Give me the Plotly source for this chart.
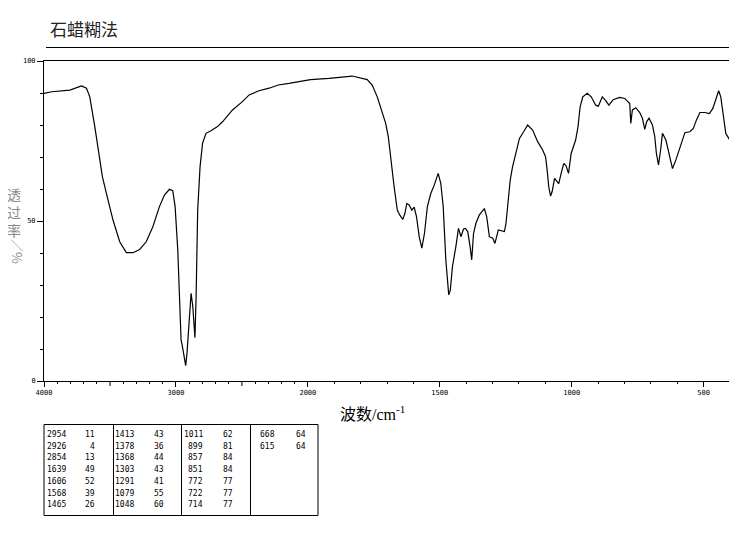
import plotly.graph_objects as go

# ---------------- data ----------------
wavenumber = [4000, 3942, 3804, 3716, 3678, 3653, 3615, 3590, 3557, 3515, 3477, 3426, 3376, 3326, 3275,
              3225, 3175, 3125, 3087, 3049, 3024, 3006, 2986, 2974, 2961, 2954, 2940, 2926, 2916, 2900,
              2885, 2872, 2856, 2847, 2835, 2817, 2798, 2772, 2734, 2685, 2647, 2571, 2496, 2445, 2370,
              2294, 2224, 2143, 2068, 1990, 1920, 1832, 1775, 1756, 1737, 1718, 1705, 1695, 1686, 1673,
              1661, 1652, 1640, 1632, 1625, 1616, 1606, 1597, 1588, 1578, 1568, 1558, 1547, 1534, 1521,
              1506, 1496, 1487, 1477, 1466, 1460, 1452, 1439, 1429, 1420, 1410, 1403, 1394, 1385, 1379,
              1372, 1363, 1350, 1331, 1322, 1312, 1299, 1291, 1278, 1268, 1255, 1249, 1243, 1233, 1224,
              1211, 1198, 1182, 1167, 1148, 1129, 1110, 1099, 1093, 1087, 1080, 1074, 1065, 1056, 1049,
              1040, 1030, 1021, 1012, 1002, 985, 976, 968, 958, 941, 926, 909, 899, 884, 871,
              859, 843, 818, 799, 780, 776, 770, 757, 742, 732, 723, 716, 707, 694, 685,
              679, 671, 663, 656, 643, 630, 618, 605, 590, 571, 552, 539, 527, 514, 495,
              478, 465, 452, 443, 435, 425, 416, 401]
transmittance = [89.9, 90.4, 90.9, 92.2, 91.5, 88.8, 79.5, 72.2, 63.8, 56.6, 50.3, 43.5, 40.1, 40.1, 41.1,
                 43.5, 48.2, 54.5, 58.1, 59.9, 59.5, 54.5, 40.9, 27.5, 12.8, 11.5, 8.6, 4.8, 8.7, 18.0,
                 27.4, 23.2, 13.5, 26.3, 53.4, 67.0, 74.3, 77.4, 78.2, 79.5, 81.0, 84.7, 87.3, 89.4, 90.7,
                 91.5, 92.5, 93.0, 93.5, 94.2, 94.6, 95.3, 94.2, 92.5, 88.8, 83.6, 80.5, 76.3, 69.1, 60.7,
                 53.4, 51.9, 50.5, 52.4, 55.5, 55.0, 53.4, 54.3, 51.3, 45.1, 41.5, 46.1, 54.5, 58.6, 61.2,
                 64.9, 61.7, 54.5, 37.8, 26.9, 28.4, 35.7, 42.0, 47.7, 45.1, 47.5, 47.7, 46.7, 42.0, 37.8,
                 46.1, 49.3, 51.9, 53.9, 51.3, 45.1, 44.6, 43.0, 47.2, 47.0, 46.7, 49.3, 54.5, 62.8, 67.0,
                 71.1, 75.8, 77.9, 80.0, 78.4, 74.8, 72.2, 70.1, 65.9, 60.7, 57.8, 59.2, 63.3, 62.3, 61.7,
                 64.9, 68.0, 67.2, 64.9, 71.1, 75.3, 79.5, 85.7, 88.8, 89.9, 88.8, 86.2, 85.9, 88.8, 87.6,
                 86.2, 87.9, 88.6, 88.3, 86.7, 80.5, 84.7, 85.4, 83.9, 82.1, 78.6, 81.0, 82.1, 80.0, 76.3,
                 71.1, 67.5, 72.2, 77.4, 75.3, 70.1, 66.4, 69.1, 73.2, 77.6, 77.9, 78.9, 81.6, 83.9, 83.9,
                 83.6, 85.2, 88.3, 90.7, 88.8, 82.6, 77.4, 75.3]

peak_wavenumbers = [2954, 2926, 2854, 1639, 1606, 1568, 1465,
                    1413, 1378, 1368, 1303, 1291, 1079, 1048,
                    1011, 899, 857, 851, 772, 722, 714,
                    668, 615]
peak_transmittance = [11, 4, 13, 49, 52, 39, 26,
                      43, 36, 44, 43, 41, 55, 60,
                      62, 81, 84, 84, 77, 77, 77,
                      64, 64]

labeled_tick_wn = [4000, 3000, 2000, 1500, 1000, 500]
labeled_tick_text = ["4000", "3000", "2000", "1500", "1000", "500"]
unlabeled_major_wn = [3500, 2500]
y_tick_vals = [0, 50, 100]
y_tick_labels = ["0", "50", "100"]

title_text = "石蜡糊法"
x_title = "波数/cm<sup>-1</sup>"
y_title_chars = ["透", "过", "率"]
y_title_unit = "／%"

# ---------------- scale: split wavenumber axis (4000-2000 compressed x0.5) ----------------
def to_u(w):
    return (4000 - w) / 2.0 if w >= 2000 else 1000 + (2000 - w)

# reference geometry (page pixels); the page body adds an 8px offset
OFF = 8
W, H = 737, 539
L, R, T, B = 44, 730, 61, 381

def px(x):
    return (x - L) / (R - L)

def py(y):
    return (B - y) / (B - T)

fig = go.Figure()
fig.add_trace(go.Scatter(
    x=[to_u(w) for w in wavenumber], y=transmittance,
    mode="lines", line=dict(color="black", width=1.2), hoverinfo="skip", showlegend=False))

minor_wn = [w for w in range(3900, 399, -100) if w % 500 != 0]

fig.update_layout(
    width=W - OFF, height=H - OFF,
    margin=dict(l=L - OFF, r=W - R, t=T - OFF, b=H - B, autoexpand=False),
    paper_bgcolor="white", plot_bgcolor="white",
    showlegend=False,
    xaxis=dict(
        range=[0, to_u(400)], showgrid=False, zeroline=False,
        showline=True, linecolor="black", linewidth=1, mirror=True,
        tickmode="array", tickvals=[to_u(w) for w in labeled_tick_wn], ticktext=labeled_tick_text,
        ticks="outside", ticklen=5, tickwidth=1, tickcolor="black",
        tickfont=dict(family="DejaVu Sans Mono", size=7, color="black"),
        minor=dict(tickmode="array", tickvals=[to_u(w) for w in minor_wn],
                   ticks="outside", ticklen=2, tickwidth=1, tickcolor="black"),
    ),
    yaxis=dict(
        range=[0, 100], showgrid=False, zeroline=False,
        showline=True, linecolor="black", linewidth=1, mirror=True,
        tickmode="array", tickvals=y_tick_vals, ticktext=y_tick_labels,
        ticks="outside", ticklen=6, tickwidth=1, tickcolor="black",
        tickfont=dict(family="DejaVu Sans Mono", size=7, color="black"),
        minor=dict(dtick=10, ticks="outside", ticklen=3, tickwidth=1, tickcolor="black"),
    ),
)

annotations = []
shapes = []

# unlabeled major ticks at 3500 and 2500
for w in unlabeled_major_wn:
    shapes.append(dict(type="line", xref="x", yref="paper", x0=to_u(w), x1=to_u(w),
                       y0=0, y1=-5 / (B - T), line=dict(color="black", width=1)))

# title and its underline
annotations.append(dict(text=title_text, x=px(48), y=py(29), xref="paper", yref="paper",
                        xanchor="left", yanchor="middle", showarrow=False,
                        font=dict(family="Noto Sans CJK SC", size=17, color="#222")))
shapes.append(dict(type="line", xref="paper", yref="paper", x0=px(46), x1=px(733),
                   y0=py(47.5), y1=py(47.5), line=dict(color="black", width=1)))

# x title
annotations.append(dict(text=x_title, x=px(372), y=py(413), xref="paper", yref="paper",
                        xanchor="center", yanchor="middle", showarrow=False,
                        font=dict(family="Liberation Serif, Noto Sans CJK SC", size=16, color="black")))

# y title (vertical writing: upright CJK, rotated unit)
annotations.append(dict(text="<br>".join(y_title_chars), x=px(14), y=py(211.5),
                        xref="paper", yref="paper", xanchor="center", yanchor="middle",
                        showarrow=False, borderpad=0,
                        font=dict(family="Noto Sans CJK SC", size=14, color="#8a8a8a")))
annotations.append(dict(text=y_title_unit, x=px(18), y=py(251), xref="paper", yref="paper",
                        xanchor="center", yanchor="middle", showarrow=False, textangle=90,
                        borderpad=0,
                        font=dict(family="Noto Sans CJK SC", size=13, color="#8a8a8a")))

# peak table
tbl_left, tbl_right, tbl_top, tbl_bot = 44, 318, 424.5, 515.5
col_dividers = [113.5, 181.5, 250.5]
shapes.append(dict(type="rect", xref="paper", yref="paper", x0=px(tbl_left), x1=px(tbl_right),
                   y0=py(tbl_top), y1=py(tbl_bot), line=dict(color="black", width=1)))
for cx in col_dividers:
    shapes.append(dict(type="line", xref="paper", yref="paper", x0=px(cx), x1=px(cx),
                       y0=py(tbl_top), y1=py(tbl_bot), line=dict(color="black", width=1)))

wn_right = [67.5, 135.5, 204.5, 277]
t_right = [97, 165.5, 234.5, 307.5]
rows_per_col = 7
for k, (w, t) in enumerate(zip(peak_wavenumbers, peak_transmittance)):
    c, r = divmod(k, rows_per_col)
    yy = 434.5 + r * 11.7
    for txt, xr in ((str(w), wn_right[c]), (str(t), t_right[c])):
        annotations.append(dict(text=txt, x=px(xr), y=py(yy), xref="paper", yref="paper",
                                xanchor="right", yanchor="middle", showarrow=False,
                                font=dict(family="Liberation Sans Narrow, DejaVu Sans Mono", size=8,
                                          color="black")))

fig.update_layout(annotations=annotations, shapes=shapes)
fig.write_html("out.html")
